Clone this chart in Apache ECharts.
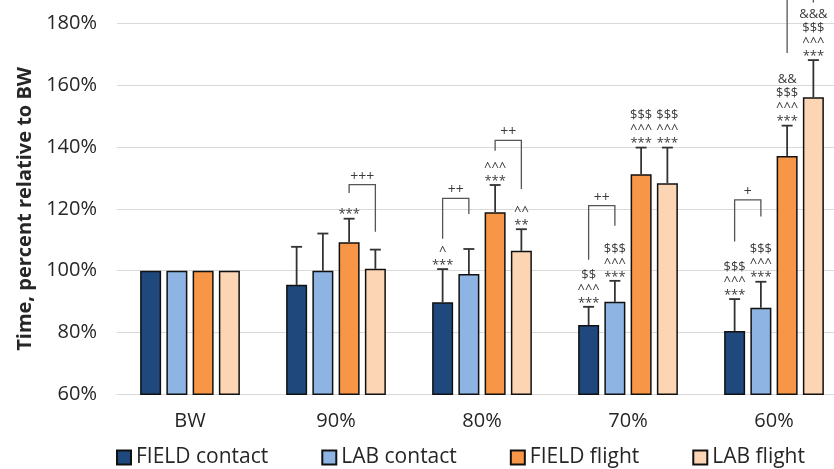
<!DOCTYPE html>
<html>
<head>
<meta charset="utf-8">
<script src="https://cdn.jsdelivr.net/npm/echarts@6/dist/echarts.min.js"></script>
<style>
html,body{margin:0;padding:0;background:#fff;}
#chart{width:834px;height:469px;}
</style>
</head>
<body>
<div id="chart"></div>
<script>
// ---- data ----
const categories = ['BW', '90%', '80%', '70%', '60%'];
const seriesNames = ['FIELD contact', 'LAB contact', 'FIELD flight', 'LAB flight'];
const yTicks = [60, 80, 100, 120, 140, 160, 180];

const fieldContact    = [100, 95.4, 89.8, 82.4, 80.5];
const fieldContactErr = [0, 12.3, 10.7, 5.9, 10.3];
const labContact      = [100, 100.0, 98.9, 89.9, 88.0];
const labContactErr   = [0, 12.0, 8.1, 6.8, 8.4];
const fieldFlight     = [100, 109.2, 118.9, 131.2, 137.1];
const fieldFlightErr  = [0, 7.6, 8.8, 8.6, 9.8];
const labFlight       = [100, 100.6, 106.4, 128.3, 156.1];
const labFlightErr    = [0, 6.2, 7.0, 11.5, 12.0];

const fieldContactSig = ['', '', '^\n***', '$$\n^^^\n***', '$$$\n^^^\n***'];
const labContactSig   = ['', '', '', '$$$\n^^^\n***', '$$$\n^^^\n***'];
const fieldFlightSig  = ['', '***', '^^^\n***', '$$$\n^^^\n***', '&&\n$$$\n^^^\n***'];
const labFlightSig    = ['', '', '^^\n**', '$$$\n^^^\n***', '&&&\n$$$\n^^^\n***'];

// brackets between two bars of one category
const bracketCat      = [1, 2, 2, 3, 4, 4];
const bracketFrom     = [2, 0, 2, 0, 0, 2];
const bracketTo       = [3, 1, 3, 1, 1, 3];
const bracketText     = ['+++', '++', '++', '++', '+', ''];
const bracketLevel    = [127.8, 123.4, 142.1, 121.0, 122.9, 192.0];
const bracketLeftEnd  = [125.1, 110.3, 138.8, 103.5, 109.4, 170.4];
const bracketRightEnd = [112.6, 118.3, 126.4, 114.5, 117.5, 186.7];

// ---- style ----
const FONT = "'Open Sans', 'Noto Sans', sans-serif";
const colors = ['#1F497D', '#8DB4E2', '#F79646', '#FCD5B4'];
const BAR_W = 21;
const BAR_GAP = 0.25;
const STEP = BAR_W * (1 + BAR_GAP);
const TEXT_COLOR = '#262626';

const values = [fieldContact, labContact, fieldFlight, labFlight];
const errors = [fieldContactErr, labContactErr, fieldFlightErr, labFlightErr];
const sigs = [fieldContactSig, labContactSig, fieldFlightSig, labFlightSig];

function offsetOf(k) { return (k - 1.5) * STEP; }

const barSeries = seriesNames.map((name, k) => ({
  name: name,
  type: 'bar',
  barWidth: BAR_W,
  barGap: (BAR_GAP * 100) + '%',
  data: values[k],
  itemStyle: { color: colors[k], borderColor: '#111', borderWidth: 1.5 },
  emphasis: { disabled: true },
  z: 2
}));

const errSeries = seriesNames.map((name, k) => ({
  name: 'err' + k,
  type: 'custom',
  clip: false,
  z: 5,
  silent: true,
  data: values[k].map((v, i) => [i, v, errors[k][i]]),
  encode: { x: 0, y: 1 },
  renderItem: function (params, api) {
    const i = api.value(0), v = api.value(1), e = api.value(2);
    const base = api.coord([i, v]);
    const x = base[0] + offsetOf(k);
    const topY = api.coord([i, v + e])[1];
    const children = [];
    const ls = { stroke: '#333', lineWidth: 1.8 };
    if (e > 0) {
      children.push({ type: 'line', shape: { x1: x, y1: base[1], x2: x, y2: topY }, style: ls });
      children.push({ type: 'line', shape: { x1: x - 5.5, y1: topY, x2: x + 5.5, y2: topY }, style: ls });
    }
    const s = sigs[k][params.dataIndex];
    if (s) {
      children.push({
        type: 'text',
        x: x, y: topY + 3,
        style: {
          text: s, fill: '#3a3a3a', font: '13px ' + FONT,
          align: 'center', verticalAlign: 'bottom', lineHeight: 14
        }
      });
    }
    return { type: 'group', children: children };
  }
}));

const bracketSeries = {
  name: 'brackets',
  type: 'custom',
  clip: false,
  z: 6,
  silent: true,
  data: bracketCat.map((c, j) => [c, bracketLevel[j], bracketLeftEnd[j], bracketRightEnd[j]]),
  encode: { x: 0, y: 1 },
  renderItem: function (params, api) {
    const j = params.dataIndex;
    const c = api.value(0);
    const lvl = api.coord([c, api.value(1)]);
    const yL = api.coord([c, api.value(2)])[1];
    const yR = api.coord([c, api.value(3)])[1];
    const xL = lvl[0] + offsetOf(bracketFrom[j]);
    const xR = lvl[0] + offsetOf(bracketTo[j]);
    const children = [{
      type: 'polyline',
      shape: { points: [[xL, yL], [xL, lvl[1]], [xR, lvl[1]], [xR, yR]] },
      style: { stroke: '#555', lineWidth: 1.3, fill: null }
    }];
    if (bracketText[j]) {
      children.push({
        type: 'text', x: (xL + xR) / 2, y: lvl[1] - 1,
        style: { text: bracketText[j], fill: '#3a3a3a', font: '14px ' + FONT,
                 align: 'center', verticalAlign: 'bottom', lineHeight: 14 }
      });
    }
    return { type: 'group', children: children };
  }
};

const chart = echarts.init(document.getElementById('chart'), null, { renderer: 'canvas' });
chart.setOption({
  animation: false,
  backgroundColor: '#fff',
  textStyle: { fontFamily: FONT },
  grid: { left: 117, top: 23.3, width: 730, bottom: 74.7, outerBoundsMode: 'none', containLabel: false },
  legend: {
    data: seriesNames,
    left: 111,
    top: 442,
    itemWidth: 14,
    itemHeight: 14,
    itemGap: 53,
    icon: 'rect',
    textStyle: { fontSize: 21, color: TEXT_COLOR, fontFamily: FONT },
    selectedMode: false
  },
  xAxis: {
    type: 'category',
    data: categories,
    axisLine: { lineStyle: { color: '#d9d9d9', width: 1 } },
    axisTick: { show: false },
    axisLabel: { fontSize: 20, color: TEXT_COLOR, margin: 17, fontFamily: FONT }
  },
  yAxis: {
    type: 'value',
    min: yTicks[0],
    max: yTicks[yTicks.length - 1],
    interval: 20,
    name: 'Time, percent relative to BW',
    nameLocation: 'middle',
    nameGap: 82,
    nameTextStyle: { fontSize: 20, fontWeight: 'bold', color: TEXT_COLOR, fontFamily: FONT },
    axisLine: { show: false },
    axisTick: { show: false },
    axisLabel: { fontSize: 20, color: TEXT_COLOR, margin: 20, formatter: v => v + '%', fontFamily: FONT },
    splitLine: { lineStyle: { color: '#d9d9d9', width: 1 } }
  },
  series: barSeries.concat(errSeries, [bracketSeries])
});
</script>
</body>
</html>
